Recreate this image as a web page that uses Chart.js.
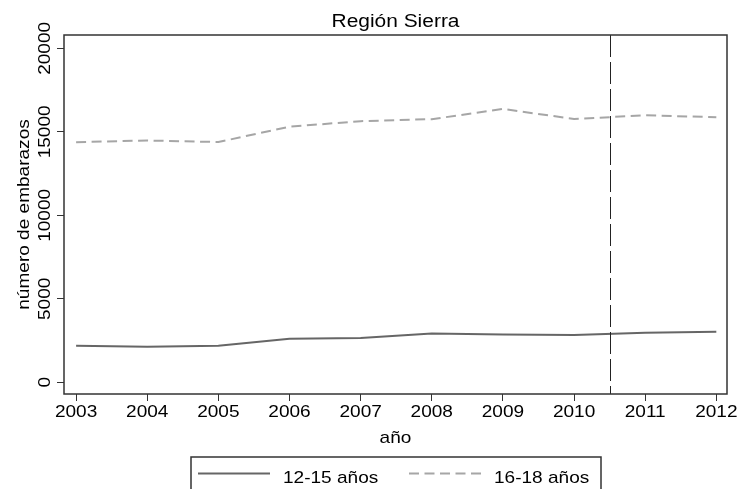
<!DOCTYPE html>
<html>
<head>
<meta charset="utf-8">
<script src="https://cdn.jsdelivr.net/npm/chart.js@4/dist/chart.umd.min.js"></script>
<style>
  html, body { margin: 0; padding: 0; background: #fff; }
  #wrap { width: 738px; height: 489px; }
</style>
</head>
<body>
<div id="wrap"><canvas id="grafico" width="738" height="489"></canvas></div>
<script>
// datos
const anios = [2003, 2004, 2005, 2006, 2007, 2008, 2009, 2010, 2011, 2012];
const edad1215 = [2190, 2130, 2185, 2610, 2660, 2930, 2870, 2830, 2970, 3030];
const edad1618 = [14380, 14480, 14390, 15310, 15640, 15760, 16370, 15770, 15990, 15880];
const ticksY = [0, 5000, 10000, 15000, 20000];
const corte = 2010.5;

const titulo = 'Región Sierra';
const tituloX = 'año';
const tituloY = 'número de embarazos';
const etiquetas = ['12-15 años', '16-18 años'];

const familia = '"Liberation Sans", Arial, sans-serif';
const estirar = 1.12; // el texto original sale algo ensanchado

// dibuja texto ensanchado, opcionalmente vertical
function texto(ctx, s, x, y, size, align, vertical) {
    ctx.save();
    ctx.translate(x, y);
    if (vertical) ctx.rotate(-Math.PI / 2);
    ctx.scale(estirar, 1);
    ctx.font = size + 'px ' + familia;
    ctx.textAlign = align;
    ctx.textBaseline = 'alphabetic';
    ctx.fillStyle = '#000';
    ctx.fillText(s, 0, 0);
    ctx.restore();
}

// texto, caja, línea de corte y leyenda
const extras = {
    id: 'extras',
    afterDraw(chart) {
        const ctx = chart.ctx;
        const area = chart.chartArea;
        const x = chart.scales.x;
        const y = chart.scales.y;

        ctx.save();
        // linea vertical de corte
        const xc = Math.round(x.getPixelForValue(corte)) + 0.5;
        ctx.strokeStyle = '#222';
        ctx.lineWidth = 1;
        ctx.setLineDash([22, 5]);
        ctx.beginPath();
        ctx.moveTo(xc, area.top);
        ctx.lineTo(xc, area.bottom);
        ctx.stroke();
        ctx.setLineDash([]);

        // caja del area
        ctx.strokeStyle = '#333';
        ctx.lineWidth = 1.5;
        ctx.strokeRect(area.left, area.top, area.right - area.left, area.bottom - area.top);

        const cx = (area.left + area.right) / 2;
        texto(ctx, titulo, cx, 26.5, 18.7, 'center');
        texto(ctx, tituloX, cx, 443, 17, 'center');

        x.ticks.forEach(t => {
            texto(ctx, String(t.value), x.getPixelForValue(t.value), 417, 17, 'center');
        });
        y.ticks.forEach(t => {
            texto(ctx, String(t.value), 49.5, y.getPixelForValue(t.value), 17, 'center', true);
        });
        texto(ctx, tituloY, 28.5, (area.top + area.bottom) / 2, 17, 'center', true);

        // leyenda
        ctx.strokeStyle = '#333';
        ctx.lineWidth = 1.5;
        ctx.strokeRect(191, 457, 410, 40);
        const yl = 473.5;
        const ds = chart.data.datasets;
        [[198, 283], [409, 494]].forEach((p, i) => {
            ctx.strokeStyle = ds[i].borderColor;
            ctx.lineWidth = ds[i].borderWidth;
            ctx.setLineDash(ds[i].borderDash || []);
            ctx.beginPath();
            ctx.moveTo(p[0], yl);
            ctx.lineTo(p[0] + 72, yl);
            ctx.stroke();
            ctx.setLineDash([]);
            texto(ctx, etiquetas[i], p[1], 483, 17, 'left');
        });
        ctx.restore();
    }
};

const ctx = document.getElementById('grafico').getContext('2d');
new Chart(ctx, {
    type: 'line',
    data: {
        datasets: [
            {
                label: etiquetas[0],
                data: anios.map((a, i) => ({ x: a, y: edad1215[i] })),
                borderColor: '#666666',
                borderWidth: 2,
                pointRadius: 0,
                tension: 0,
                fill: false
            },
            {
                label: etiquetas[1],
                data: anios.map((a, i) => ({ x: a, y: edad1618[i] })),
                borderColor: '#a6a6a6',
                borderWidth: 2,
                borderDash: [10, 5.5],
                pointRadius: 0,
                tension: 0,
                fill: false
            }
        ]
    },
    options: {
        responsive: false,
        animation: false,
        layout: { padding: { top: 35, right: 11, left: 0, bottom: 0 } },
        plugins: {
            legend: { display: false },
            title: { display: false },
            tooltip: { enabled: false }
        },
        scales: {
            x: {
                type: 'linear',
                min: 2002.83,
                max: 2012.15,
                afterBuildTicks: s => { s.ticks = anios.map(v => ({ value: v })); },
                afterFit: s => { s.height = 95; },
                grid: { drawOnChartArea: false, drawTicks: true, tickLength: 7, color: '#333', lineWidth: 1 },
                border: { display: false },
                ticks: { display: false }
            },
            y: {
                type: 'linear',
                min: -700,
                max: 20800,
                afterBuildTicks: s => { s.ticks = ticksY.map(v => ({ value: v })); },
                afterFit: s => { s.width = 64; },
                grid: { drawOnChartArea: false, drawTicks: true, tickLength: 7, color: '#333', lineWidth: 1 },
                border: { display: false },
                ticks: { display: false }
            }
        }
    },
    plugins: [extras]
});
</script>
</body>
</html>
